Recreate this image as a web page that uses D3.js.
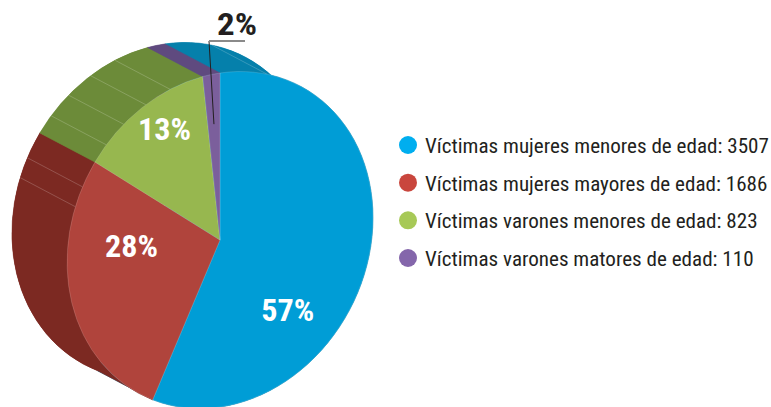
<!DOCTYPE html>
<html>
<head>
<meta charset="utf-8">
<script src="https://cdn.jsdelivr.net/npm/d3@7/dist/d3.min.js"></script>
<style>
  body { margin: 0; background: #fff; }
  svg { display: block; }
  .lbl { font-family: "Liberation Sans Narrow", "Roboto Condensed", "Liberation Sans", sans-serif; font-weight: bold; }
  .leg { font-family: "Liberation Sans Narrow", "Roboto Condensed", "Liberation Sans", sans-serif; fill: #231f20; }
</style>
</head>
<body>
<svg id="chart" width="771" height="407"></svg>
<script>
// datos
const categories = [
  "Víctimas mujeres menores de edad",
  "Víctimas mujeres mayores de edad",
  "Víctimas varones menores de edad",
  "Víctimas varones matores de edad"
];
const values = [3507, 1686, 823, 110];
const pctLabels = ["57%", "28%", "13%", "2%"];

// colores
const topColors  = ["#009dd6", "#b0443c", "#97b74f", "#7b5f9c"];
const sideColors = ["#0580ab", "#7c2922", "#6c8b39", "#5f4a7f"];
const dotColors  = ["#00aeef", "#c9463d", "#a7c957", "#8466ab"];

// la "perspectiva": circulo unidad -> elipse inclinada
const M = { ax: 153, ay: -22.3, bx: 0, by: 167, cx: 220, cy: 240 };
const depth = [-0.36, -0.222];        // extrusion en espacio unidad
const facetAngles = [18, 289, 296, 312, 321, 331, 341];   // lineas del costado (grados)
const labelAngle = [137, 274, 333];
const labelRadius = [0.65, 0.58, 0.8];

const svg = d3.select("#chart");
const matrix = `matrix(${M.ax},${M.ay},${M.bx},${M.by},${M.cx},${M.cy})`;
const toScreen = (u, v) => [M.cx + M.ax * u + M.bx * v, M.cy + M.ay * u + M.by * v];

const pie = d3.pie().sort(null).value(d => d);
const arcs = pie(values);
const arc = d3.arc().innerRadius(0).outerRadius(1);

const g = svg.append("g").attr("transform", matrix);

// cara trasera
g.append("g")
  .attr("transform", `translate(${depth[0]},${depth[1]})`)
  .selectAll("path").data(arcs).join("path")
  .attr("d", arc)
  .attr("fill", (d, i) => sideColors[i]);

// costados
function sidePath(d) {
  const p = d3.path();
  const a0 = d.startAngle - Math.PI / 2, a1 = d.endAngle - Math.PI / 2;
  p.moveTo(Math.cos(a0), Math.sin(a0));
  p.arc(0, 0, 1, a0, a1);
  p.lineTo(depth[0] + Math.cos(a1), depth[1] + Math.sin(a1));
  p.arc(depth[0], depth[1], 1, a1, a0, true);
  p.closePath();
  return p.toString();
}
g.append("g").selectAll("path").data(arcs).join("path")
  .attr("d", sidePath)
  .attr("fill", (d, i) => sideColors[i])
  .attr("stroke", (d, i) => sideColors[i])
  .attr("stroke-width", 0.6)
  .attr("vector-effect", "non-scaling-stroke");

g.append("g").selectAll("line").data(facetAngles).join("line")
  .attr("x1", a => Math.sin(a * Math.PI / 180))
  .attr("y1", a => -Math.cos(a * Math.PI / 180))
  .attr("x2", a => Math.sin(a * Math.PI / 180) + depth[0])
  .attr("y2", a => -Math.cos(a * Math.PI / 180) + depth[1])
  .attr("stroke", "rgba(255,255,255,0.28)")
  .attr("stroke-width", 0.7)
  .attr("vector-effect", "non-scaling-stroke");

// cara superior
g.append("g").selectAll("path").data(arcs).join("path")
  .attr("d", arc)
  .attr("fill", (d, i) => topColors[i])
  .attr("stroke", "rgba(255,255,255,0.25)")
  .attr("stroke-width", 0.6)
  .attr("vector-effect", "non-scaling-stroke");

// etiquetas de porcentaje
labelAngle.forEach((a, i) => {
  const t = a * Math.PI / 180;
  const [x, y] = toScreen(labelRadius[i] * Math.sin(t), -labelRadius[i] * Math.cos(t));
  svg.append("text").attr("class", "lbl")
    .attr("x", x).attr("y", y + 11)
    .attr("text-anchor", "middle")
    .attr("font-size", 31)
    .attr("fill", "#fff")
    .attr("textLength", 53)
    .attr("lengthAdjust", "spacingAndGlyphs")
    .text(pctLabels[i]);
});

// etiqueta 2% con guia
const last = arcs[3];
const mid = (last.startAngle + last.endAngle) / 2;
const [lx, ly] = toScreen(0.7 * Math.sin(mid), -0.7 * Math.cos(mid));
svg.append("polyline")
  .attr("points", `${lx},${ly} 209,41 245,41`)
  .attr("fill", "none")
  .attr("stroke", "#231f20")
  .attr("stroke-width", 1);
svg.append("line").attr("x1", 209).attr("y1", 41).attr("x2", 245).attr("y2", 41)
  .attr("stroke", "#8a8a8a").attr("stroke-width", 2);
svg.append("text").attr("class", "lbl")
  .attr("x", 237).attr("y", 35)
  .attr("text-anchor", "middle")
  .attr("font-size", 31)
  .attr("fill", "#231f20")
  .attr("textLength", 40)
  .attr("lengthAdjust", "spacingAndGlyphs")
  .text(pctLabels[3]);

// leyenda
const ly0 = d3.scalePoint().domain(categories).range([145, 258]);
const leg = svg.append("g");
const rows = leg.selectAll("g").data(categories).join("g")
  .attr("transform", d => `translate(408,${ly0(d)})`);
rows.append("circle").attr("r", 9).attr("fill", (d, i) => dotColors[i]);
const texts = rows.append("text").attr("class", "leg")
  .attr("font-size", 20)
  .attr("y", 8)
  .text((d, i) => `${d}: ${values[i]}`);
const natural = texts.nodes()[0].getComputedTextLength();
const k = 344 / natural;
texts.attr("transform", `translate(17,0) scale(${k},1)`);
</script>
</body>
</html>
